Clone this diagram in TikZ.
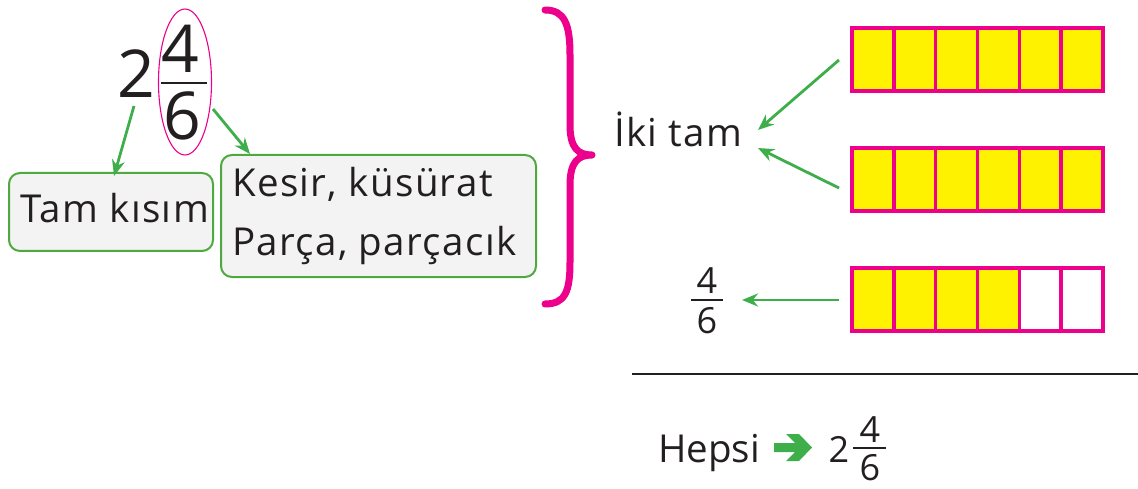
\documentclass[tikz,border=0pt]{standalone}
\usepackage{fontspec}
\setmainfont{Open Sans}
\newfontfamily\spaced[LetterSpace=3.5]{Open Sans}
\usetikzlibrary{arrows.meta,shapes.geometric}
\definecolor{mag}{HTML}{EC008C}
\definecolor{yel}{HTML}{FFF200}
\definecolor{grn}{HTML}{3DAE49}
\definecolor{boxgrn}{HTML}{4EAA3E}
\definecolor{boxfill}{HTML}{F3F3F3}
\definecolor{ink}{HTML}{231F20}
\begin{document}
\begin{tikzpicture}[x=1pt,y=-1pt,
  txt/.style={inner sep=0pt,anchor=base west,text=ink,font=\spaced\fontsize{38.5}{38.5}\selectfont},
  htxt/.style={inner sep=0pt,anchor=base west,text=ink,font=\fontsize{38.5}{38.5}\selectfont},
  big/.style={inner sep=0pt,anchor=base,text=ink,font=\fontsize{66}{66}\selectfont},
  mid/.style={inner sep=0pt,anchor=base,text=ink,font=\fontsize{36}{36}\selectfont},
  lbox/.style={draw=boxgrn,line width=2pt,fill=boxfill,rounded corners=11pt,inner sep=0pt},
  garrow/.style={draw=grn,line width=2.8pt,-{Stealth[length=16pt,width=13pt]}},
  brace/.style={draw=mag,line width=7pt,line cap=round,line join=round},
  cellbar/.style={draw=mag,line width=3.5pt},
  bar/.style={draw=ink,line width=2.6pt}]
\useasboundingbox (0,0) rectangle (1138,489);
% top-left mixed number
\node[big] (two) at (136,98) {2};
\node[big] (n4) at (180,73) {4};
\node[big] (n6) at (182,140) {6};
\coordinate (b1l) at (161,83); \coordinate (b1r) at (207,83);
\draw[bar] (b1l) -- (b1r);
\node[draw=mag,line width=1.1pt,ellipse,minimum width=53pt,minimum height=146pt,inner sep=0pt] (ell) at (185,82) {};
% boxes
\node[lbox,minimum width=204pt,minimum height=78pt] (box1) at (111,212) {};
\node[txt] (t1) at (20,223) {Tam kısım};
\node[lbox,minimum width=315pt,minimum height=122pt] (box2) at (378.5,216) {};
\node[txt] (t2) at (232,197) {Kesir, küsürat};
\node[txt] (t3) at (232,255) {Parça, parçacık};
\coordinate (a1s) at (134,106); \coordinate (a1e) at (114,176);
\coordinate (a2s) at (213,109); \coordinate (a2e) at (250,154);
\draw[garrow] (a1s) -- (a1e);
\draw[garrow] (a2s) -- (a2e);
% brace
\coordinate (brt) at (545,10); \coordinate (brb) at (545,304); \coordinate (brm) at (592,155);
\draw[brace] (brt) .. controls (565,10) and (570,25) .. (570,55) -- (570,125)
  .. controls (570,148) and (578,155) .. (brm)
  .. controls (578,155) and (570,162) .. (570,185) -- (570,262)
  .. controls (570,292) and (565,304) .. (brb);
% labels
\node[txt] (iki) at (614,147) {İki tam};
\node[mid] (f4) at (707,293) {4};
\node[mid] (f6) at (707,333) {6};
\coordinate (b2l) at (691,300); \coordinate (b2r) at (723,300);
\draw[bar] (b2l) -- (b2r);
% strips
\foreach \y/\n in {28/6,148/6,268/4}{
  \fill[yel] (852,\y) rectangle ({852+41.83*\n},{\y+63});
  \draw[cellbar] (852,\y) rectangle (1103,{\y+63});
  \foreach \i in {1,...,5}{\draw[cellbar] ({852+41.83*\i},\y) -- ({852+41.83*\i},{\y+63});}
}
\node[inner sep=0pt,minimum width=251pt,minimum height=63pt,anchor=north west] (s1) at (852,28) {};
\node[inner sep=0pt,minimum width=251pt,minimum height=63pt,anchor=north west] (s2) at (852,148) {};
\node[inner sep=0pt,minimum width=251pt,minimum height=63pt,anchor=north west] (s3) at (852,268) {};
\coordinate (c1s) at (839,60); \coordinate (c1e) at (758,130);
\coordinate (c2s) at (839,188); \coordinate (c2e) at (758,148);
\coordinate (c3s) at (839,300); \coordinate (c3e) at (742,300);
\draw[garrow] (c1s) -- (c1e);
\draw[garrow] (c2s) -- (c2e);
\draw[garrow] (c3s) -- (c3e);
% rule
\coordinate (hl) at (632,374); \coordinate (hr) at (1138,374);
\draw[draw=ink,line width=2.5pt] (hl) -- (hr);
% result
\node[htxt] (hep) at (658,462) {Hepsi};
\fill[grn] (774,443) -- (795,443) -- (786,434) -- (799,434) -- (812,447.5) -- (799,461) -- (786,461) -- (795,452) -- (774,452) -- cycle;
\node[mid] (r2) at (839,462) {2};
\node[mid] (r4) at (870,442) {4};
\node[mid] (r6) at (870,480) {6};
\coordinate (b3l) at (853,448); \coordinate (b3r) at (886,448);
\draw[bar] (b3l) -- (b3r);
\end{tikzpicture}
\end{document}
